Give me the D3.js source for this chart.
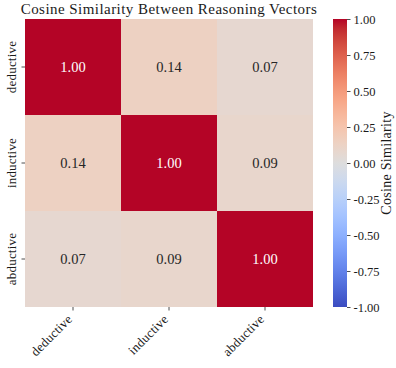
<!DOCTYPE html>
<html>
<head>
<meta charset="utf-8">
<script src="https://cdn.jsdelivr.net/npm/d3@7"></script>
<style>
  html, body { margin: 0; padding: 0; background: #fff; }
  svg { display: block; }
  text { font-family: "Liberation Serif", "DejaVu Serif", serif; fill: #1a1a1a; }
</style>
</head>
<body>
<svg id="chart" width="396" height="368"></svg>
<script>
// Reasoning types compared pairwise
const categories = ["deductive", "inductive", "abductive"];

// Cosine similarity matrix, row by row
const rowDeductive = [1.00, 0.14, 0.07];
const rowInductive = [0.14, 1.00, 0.09];
const rowAbductive = [0.07, 0.09, 1.00];
const matrix = [rowDeductive, rowInductive, rowAbductive];

// Colour bar range and ticks
const colorDomain = [-1, 1];
const colorTicks = [-1.00, -0.75, -0.50, -0.25, 0.00, 0.25, 0.50, 0.75, 1.00];

const titleText = "Cosine Similarity Between Reasoning Vectors";
const colorbarLabel = "Cosine Similarity";

// Moreland cool-warm diverging colour map (33 control points)
const coolwarmStops = [
  [0.2298057, 0.298717966, 0.753683153], [0.26623388, 0.353094838, 0.801466763],
  [0.30386891, 0.406535296, 0.84495867], [0.342804478, 0.458757618, 0.883725899],
  [0.38301334, 0.50941904, 0.917387822], [0.424369608, 0.558148092, 0.945619588],
  [0.46666708, 0.604562568, 0.968154911], [0.509635204, 0.648280772, 0.98478814],
  [0.552953156, 0.688929332, 0.995375608], [0.596262162, 0.726149107, 0.999836203],
  [0.639176211, 0.759599947, 0.998151185], [0.681291281, 0.788964712, 0.990363227],
  [0.722193294, 0.813952739, 0.976574709], [0.761464949, 0.834302879, 0.956945269],
  [0.798691636, 0.849786142, 0.931688648], [0.833466556, 0.860207984, 0.901068838],
  [0.865395197, 0.86541021, 0.865395561], [0.897787179, 0.848937047, 0.820880546],
  [0.924127593, 0.827384882, 0.774508472], [0.944468518, 0.800927443, 0.726736146],
  [0.958852946, 0.769767752, 0.678007945], [0.96732803, 0.734132809, 0.628751763],
  [0.969954137, 0.694266682, 0.579375448], [0.966811177, 0.650421156, 0.530263762],
  [0.958003065, 0.602842431, 0.481775914], [0.943660866, 0.551750968, 0.434243684],
  [0.923944917, 0.49730856, 0.387970225], [0.89904617, 0.439559467, 0.343229596],
  [0.869186849, 0.378313092, 0.300267182], [0.834620542, 0.312874446, 0.259301199],
  [0.795631745, 0.24128379, 0.220525627], [0.752534934, 0.157246067, 0.184115123],
  [0.705673158, 0.01555616, 0.150232812]
];
const coolwarmColors = coolwarmStops.map(c => d3.rgb(c[0] * 255, c[1] * 255, c[2] * 255).formatHex());
const coolwarm = d3.scaleLinear()
  .domain(d3.range(coolwarmColors.length).map(i => i / (coolwarmColors.length - 1)))
  .range(coolwarmColors)
  .interpolate(d3.interpolateRgb);

const color = d3.scaleLinear().domain(colorDomain).range([0, 1]).clamp(true);
const colorOf = v => coolwarm(color(v));

const svg = d3.select("#chart");

// Heatmap area
const heat = { left: 25, top: 19, size: 288 };
const x = d3.scaleBand().domain(categories).range([heat.left, heat.left + heat.size]);
const y = d3.scaleBand().domain(categories).range([heat.top, heat.top + heat.size]);

const cells = [];
matrix.forEach((row, i) => row.forEach((v, j) => cells.push({ r: categories[i], c: categories[j], v })));

svg.append("g").selectAll("rect").data(cells).join("rect")
  .attr("x", d => x(d.c))
  .attr("y", d => y(d.r))
  .attr("width", x.bandwidth())
  .attr("height", y.bandwidth())
  .attr("fill", d => colorOf(d.v));

// Value annotations: light text on dark cells
const luminance = c => {
  const rgb = d3.rgb(c);
  const lin = u => { u /= 255; return u <= 0.03928 ? u / 12.92 : Math.pow((u + 0.055) / 1.055, 2.4); };
  return 0.2126 * lin(rgb.r) + 0.7152 * lin(rgb.g) + 0.0722 * lin(rgb.b);
};
svg.append("g").selectAll("text").data(cells).join("text")
  .attr("x", d => x(d.c) + x.bandwidth() / 2)
  .attr("y", d => y(d.r) + y.bandwidth() / 2)
  .attr("text-anchor", "middle")
  .attr("dominant-baseline", "central")
  .style("font-size", "14.5px")
  .style("fill", d => luminance(colorOf(d.v)) > 0.408 ? "#262626" : "#ffffff")
  .text(d => d.v.toFixed(2));

const tickFont = sel => sel
  .style("font-size", "13px")
  .style("letter-spacing", "0.2px")
  .style("font-family", "Liberation Serif, serif")
  .attr("fill", "#1a1a1a");

// Axes
const xAxis = svg.append("g")
  .attr("transform", `translate(0,${heat.top + heat.size})`)
  .call(d3.axisBottom(x).tickSize(3.5).tickPadding(4));
xAxis.select(".domain").remove();
xAxis.selectAll("line").attr("stroke", "#222").attr("stroke-width", 0.8);
xAxis.selectAll("text")
  .call(tickFont)
  .attr("text-anchor", "end")
  .attr("dy", null)
  .attr("y", null)
  .attr("transform", "translate(0,13) rotate(-45)");

const yAxis = svg.append("g")
  .attr("transform", `translate(${heat.left},0)`)
  .call(d3.axisLeft(y).tickSize(3.5).tickPadding(4));
yAxis.select(".domain").remove();
yAxis.selectAll("line").attr("stroke", "#222").attr("stroke-width", 0.8);
yAxis.selectAll("text")
  .call(tickFont)
  .attr("text-anchor", "middle")
  .attr("x", null)
  .attr("dy", null)
  .attr("transform", "translate(-9,0) rotate(-90)");

// Title
svg.append("text")
  .attr("x", heat.left + heat.size / 2)
  .attr("y", 13.5)
  .attr("text-anchor", "middle")
  .style("font-size", "15px")
  .style("letter-spacing", "0.45px")
  .text(titleText);

// Colour bar
const cb = { left: 333, width: 14, top: 19, height: 288 };
const defs = svg.append("defs");
const grad = defs.append("linearGradient")
  .attr("id", "cbGrad").attr("x1", 0).attr("x2", 0).attr("y1", 1).attr("y2", 0);
grad.selectAll("stop").data(coolwarmColors).join("stop")
  .attr("offset", (d, i) => i / (coolwarmColors.length - 1))
  .attr("stop-color", d => d);
svg.append("rect")
  .attr("x", cb.left).attr("y", cb.top)
  .attr("width", cb.width).attr("height", cb.height)
  .attr("fill", "url(#cbGrad)");

const cbScale = d3.scaleLinear().domain(colorDomain).range([cb.top + cb.height, cb.top]);
const cbAxis = svg.append("g")
  .attr("transform", `translate(${cb.left + cb.width},0)`)
  .call(d3.axisRight(cbScale).tickValues(colorTicks).tickSize(3.5).tickPadding(3)
    .tickFormat(v => (v < 0 ? "-" : "") + Math.abs(v).toFixed(2)));
cbAxis.select(".domain").remove();
cbAxis.selectAll("line").attr("stroke", "#222").attr("stroke-width", 0.8);
cbAxis.selectAll("text")
  .style("font-size", "12.5px")
  .style("font-family", "Liberation Serif, serif")
  .attr("fill", "#1a1a1a");

svg.append("text")
  .attr("transform", `translate(391,${cb.top + cb.height / 2}) rotate(-90)`)
  .attr("text-anchor", "middle")
  .style("font-size", "14px")
  .style("letter-spacing", "0.3px")
  .text(colorbarLabel);
</script>
</body>
</html>
